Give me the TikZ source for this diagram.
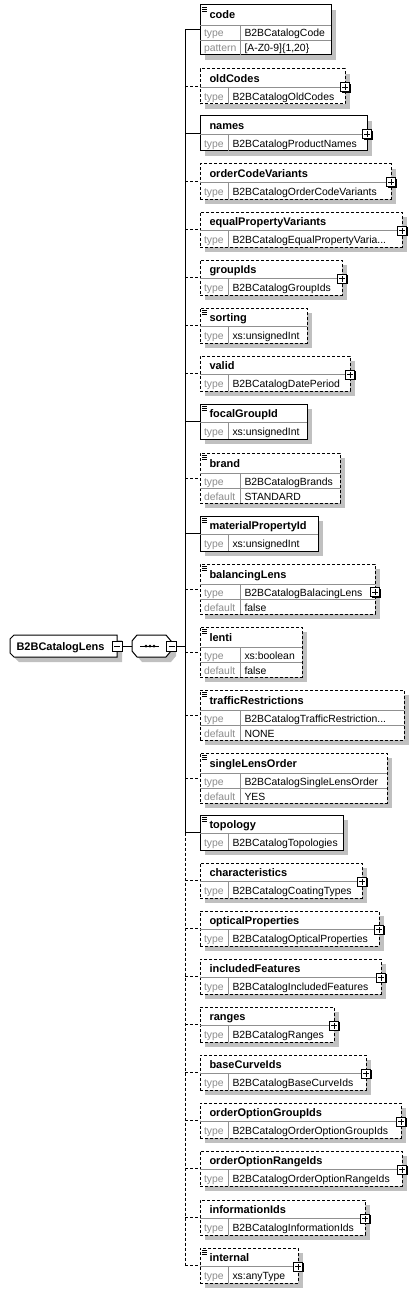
\documentclass[tikz,border=0pt]{standalone}
\usepackage{fontspec}
\setmainfont{Liberation Sans}
\usetikzlibrary{positioning, shadows}

\definecolor{shadowgray}{HTML}{C0C0C0}
\definecolor{linegray}{HTML}{909090}
\definecolor{labelgray}{HTML}{8C8C8C}

% element with a type row
\newcommand{\elemtwo}[6][reqline]{%
  \node[elembox, #1, minimum width=#4, minimum height=35] (#2) at (200,#3) {};
  \draw[rowline] ([yshift=-18pt]#2.north west) -- ([yshift=-18pt]#2.north east)
    ([xshift=28pt,yshift=-18pt]#2.north west) -- ([xshift=28pt]#2.south west);
  \node[elemname] (#2-n) at ([xshift=9pt,yshift=-13.5pt]#2.north west) {#5};
  \node[elemlabel] (#2-l) at ([xshift=3.5pt,yshift=3.5pt]#2.south west) {type};
  \node[elemtext] (#2-t) at ([xshift=32pt,yshift=3.5pt]#2.south west) {#6};
  \draw[#1] (trunk |- #2.west) -- (#2.west);
}
% element with a type row and one more row
\newcommand{\elemthree}[8][reqline]{%
  \node[elembox, #1, minimum width=#4, minimum height=50] (#2) at (200,#3) {};
  \draw[rowline] ([yshift=-20pt]#2.north west) -- ([yshift=-20pt]#2.north east)
    ([yshift=15pt]#2.south west) -- ([yshift=15pt]#2.south east)
    ([xshift=40pt,yshift=-20pt]#2.north west) -- ([xshift=40pt]#2.south west);
  \node[elemname] (#2-n) at ([xshift=9pt,yshift=-14pt]#2.north west) {#5};
  \node[elemlabel] (#2-l) at ([xshift=3.5pt,yshift=18pt]#2.south west) {type};
  \node[elemtext] (#2-t) at ([xshift=44pt,yshift=18pt]#2.south west) {#6};
  \node[elemlabel] (#2-dl) at ([xshift=3.5pt,yshift=3pt]#2.south west) {#7};
  \node[elemtext] (#2-d) at ([xshift=44pt,yshift=3pt]#2.south west) {#8};
  \draw[#1] (trunk |- #2.west) -- (#2.west);
}
% annotation mark
\newcommand{\annot}[1]{%
  \draw[annotline] ([xshift=2pt,yshift=-2pt]#1.north west) -- +(5,0)
    ([xshift=2pt,yshift=-4pt]#1.north west) -- +(5,0)
    ([xshift=2pt,yshift=-6pt]#1.north west) -- +(5,0);
}
% plus box
\newcommand{\expander}[2][-1pt]{%
  \node[expandbox] (#2-x) at ([yshift=#1]#2.east) {};
  \draw[signline] ([xshift=-3pt]#2-x.center) -- ([xshift=3pt]#2-x.center)
    ([yshift=-3pt]#2-x.center) -- ([yshift=3pt]#2-x.center);
}

\begin{document}
\begin{tikzpicture}[x=1pt, y=-1pt, line width=1pt]
    % Styles for boxes and lines
    \tikzstyle{elembox} = [rectangle, draw, fill=white, inner sep=0, outer sep=0, anchor=north west, general shadow={shadow xshift=5pt, shadow yshift=-5pt, fill=shadowgray}]
    \tikzstyle{reqline} = [solid]
    \tikzstyle{optline} = [dash pattern=on 3pt off 2pt]
    \tikzstyle{rowline} = [solid, draw=linegray, line width=0.9pt]
    \tikzstyle{annotline} = [solid, line width=0.7pt]
    \tikzstyle{signline} = [solid, line width=1pt]
    \tikzstyle{elemname} = [anchor=base west, inner sep=0, font=\fontsize{11}{13}\selectfont\bfseries]
    \tikzstyle{elemlabel} = [anchor=base west, inner sep=0, text=labelgray, font=\fontsize{10.4}{12}\selectfont]
    \tikzstyle{elemtext} = [anchor=base west, inner sep=0, font=\fontsize{10.4}{12}\selectfont]
    \tikzstyle{expandbox} = [rectangle, draw, solid, fill=white, inner sep=0, minimum size=9pt, line width=1pt, general shadow={shadow xshift=1.2pt, shadow yshift=-1.2pt, fill=black}]
    \tikzstyle{collapsebox} = [rectangle, draw, solid, fill=white, inner sep=0, minimum size=10pt, line width=0.8pt]

    \useasboundingbox (0,0) rectangle (416,1292);
    \coordinate (trunk) at (185,646);

    % Root element
    \fill[shadowgray] (15,644) -- (19,640) -- (122,640) -- (122,662) -- (19,662) -- (15,658) -- cycle;
    \draw[fill=white] (10,639) -- (14,635) -- (117,635) -- (117,657) -- (14,657) -- (10,653) -- cycle;
    \node[elemname] (root) at (16,650.5) {B2BCatalogLens};
    \node[collapsebox] (root-m) at (117,646) {};
    \draw[signline] ([xshift=-3pt]root-m.center) -- ([xshift=3pt]root-m.center);

    % Sequence
    \fill[shadowgray] (137,646) -- (142,640) -- (171,640) -- (176,646) -- (176,656) -- (171,662) -- (142,662) -- (137,656) -- cycle;
    \draw[fill=white] (132,641) -- (137,635) -- (166,635) -- (171,641) -- (171,651) -- (166,657) -- (137,657) -- (132,651) -- cycle;
    \node[inner sep=0, minimum width=39, minimum height=22] (seq) at (151.5,646) {};
    \draw (140,646) -- (159,646);
    \fill (146,646) circle (1.5pt) (150,646) circle (1.5pt) (154,646) circle (1.5pt);
    \node[collapsebox] (seq-m) at (171.5,646) {};
    \draw[signline] ([xshift=-3pt]seq-m.center) -- ([xshift=3pt]seq-m.center);
    \draw (root-m.east) -- (seq.west);
    \draw (seq-m.east) -- (trunk);

    % Children
    \elemthree[reqline]{code}{5}{131}{code}{B2BCatalogCode}{pattern}{[A-Z0-9]\{1,20\}}
    \annot{code}
    \elemtwo[optline]{oldCodes}{69}{145}{oldCodes}{B2BCatalogOldCodes}
    \expander{oldCodes}
    \elemtwo[reqline]{names}{116}{167}{names}{B2BCatalogProductNames}
    \expander{names}
    \elemtwo[optline]{orderCodeVariants}{164}{191}{orderCodeVariants}{B2BCatalogOrderCodeVariants}
    \expander{orderCodeVariants}
    \elemtwo[optline]{equalPropertyVariants}{212}{202}{equalPropertyVariants}{B2BCatalogEqualPropertyVaria...}
    \expander{equalPropertyVariants}
    \elemtwo[optline]{groupIds}{260}{142}{groupIds}{B2BCatalogGroupIds}
    \expander{groupIds}
    \elemtwo[optline]{sorting}{308}{107}{sorting}{xs:unsignedInt}
    \annot{sorting}
    \elemtwo[optline]{valid}{356}{150}{valid}{B2BCatalogDatePeriod}
    \expander{valid}
    \elemtwo[reqline]{focalGroupId}{404}{107}{focalGroupId}{xs:unsignedInt}
    \annot{focalGroupId}
    \elemthree[optline]{brand}{453}{140}{brand}{B2BCatalogBrands}{default}{STANDARD}
    \annot{brand}
    \elemtwo[reqline]{materialPropertyId}{516}{118}{materialPropertyId}{xs:unsignedInt}
    \annot{materialPropertyId}
    \elemthree[optline]{balancingLens}{564}{175}{balancingLens}{B2BCatalogBalacingLens}{default}{false}
    \annot{balancingLens}
    \expander[-3pt]{balancingLens}
    \elemthree[optline]{lenti}{627}{102}{lenti}{xs:boolean}{default}{false}
    \annot{lenti}
    \elemthree[optline]{trafficRestrictions}{690}{204}{trafficRestrictions}{B2BCatalogTrafficRestriction...}{default}{NONE}
    \annot{trafficRestrictions}
    \elemthree[optline]{singleLensOrder}{753}{187}{singleLensOrder}{B2BCatalogSingleLensOrder}{default}{YES}
    \annot{singleLensOrder}
    \elemtwo[reqline]{topology}{815}{143}{topology}{B2BCatalogTopologies}
    \annot{topology}
    \elemtwo[optline]{characteristics}{863}{162}{characteristics}{B2BCatalogCoatingTypes}
    \expander{characteristics}
    \elemtwo[optline]{opticalProperties}{911}{179}{opticalProperties}{B2BCatalogOpticalProperties}
    \expander{opticalProperties}
    \elemtwo[optline]{includedFeatures}{959}{181}{includedFeatures}{B2BCatalogIncludedFeatures}
    \expander{includedFeatures}
    \elemtwo[optline]{ranges}{1007}{134}{ranges}{B2BCatalogRanges}
    \expander{ranges}
    \elemtwo[optline]{baseCurveIds}{1055}{166}{baseCurveIds}{B2BCatalogBaseCurveIds}
    \expander{baseCurveIds}
    \elemtwo[optline]{orderOptionGroupIds}{1103}{201}{orderOptionGroupIds}{B2BCatalogOrderOptionGroupIds}
    \expander{orderOptionGroupIds}
    \elemtwo[optline]{orderOptionRangeIds}{1151}{202}{orderOptionRangeIds}{B2BCatalogOrderOptionRangeIds}
    \expander{orderOptionRangeIds}
    \elemtwo[optline]{informationIds}{1200}{165}{informationIds}{B2BCatalogInformationIds}
    \expander{informationIds}
    \elemtwo[optline]{internal}{1248}{98}{internal}{xs:anyType}
    \annot{internal}
    \expander{internal}

    % Trunk
    \draw[reqline] (trunk |- code.west) -- (trunk |- topology.west);
    \draw[optline] (trunk |- topology.west) -- (trunk |- internal.west);
\end{tikzpicture}
\end{document}
